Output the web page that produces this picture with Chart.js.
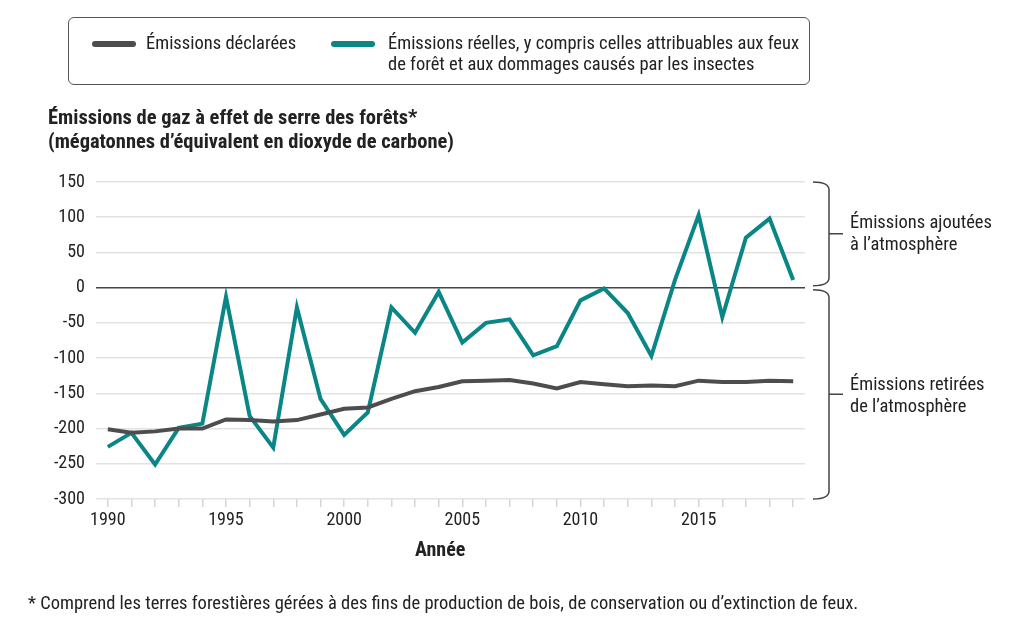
<!DOCTYPE html>
<html>
<head>
    <title>Émissions de gaz à effet de serre des forêts</title>
    <script src="https://cdn.jsdelivr.net/npm/chart.js"></script>
    <style>
        body { margin: 0; width: 1024px; height: 629px; position: relative; background: #fff;
               font-family: "Roboto Condensed", "Liberation Sans Narrow", Roboto, sans-serif; color: #222; }
        #chart { position: absolute; left: 0; top: 0; }
        .txt { position: absolute; white-space: nowrap; font-size: 18.5px; line-height: 21px; }
        #legend { position: absolute; left: 68px; top: 17px; width: 742px; height: 68px;
                  border: 1px solid #555; border-radius: 6px; box-sizing: border-box; }
        .swatch { position: absolute; height: 6px; width: 44px; border-radius: 3px; }
        #title { left: 48px; top: 105px; font-size: 20.5px; line-height: 24px; font-weight: bold; }
        #xtitle { left: 415px; top: 539px; font-size: 20px; font-weight: bold; }
        #note { left: 28px; top: 593px; }
    </style>
</head>
<body>
    <canvas id="chart" width="1024" height="629"></canvas>

    <div id="legend">
        <div class="swatch" style="left:23px; top:23px; background:#4d4d4f"></div>
        <div class="txt" style="left:77px; top:15px">Émissions déclarées</div>
        <div class="swatch" style="left:262px; top:23px; background:#0b8686"></div>
        <div class="txt" style="left:319px; top:15px">Émissions réelles, y compris celles attribuables aux feux<br>de forêt et aux dommages causés par les insectes</div>
    </div>
    <div class="txt" id="title">Émissions de gaz à effet de serre des forêts*<br>(mégatonnes d’équivalent en dioxyde de carbone)</div>
    <div class="txt" style="left:850px; top:211px; line-height:22px">Émissions ajoutées<br>à l’atmosphère</div>
    <div class="txt" style="left:850px; top:373px; line-height:22px">Émissions retirées<br>de l’atmosphère</div>
    <div class="txt" id="xtitle">Année</div>
    <div class="txt" id="note">* Comprend les terres forestières gérées à des fins de production de bois, de conservation ou d’extinction de feux.</div>

    <script>
        // years on the x axis
        var years = [];
        for (var y = 1990; y <= 2019; y++) years.push(y);

        // reported emissions (Mt CO2e)
        var declared = [-201, -206, -204, -200, -200, -187, -188, -190, -188, -180,
                        -172, -170, -158, -147, -141, -133, -132, -131, -136, -143,
                        -134, -137, -140, -139, -140, -132, -134, -134, -132, -133];

        // actual emissions incl. fires and insects
        var actual = [-226, -206, -251, -199, -193, -13, -182, -227, -28, -158,
                      -209, -177, -28, -64, -6, -78, -50, -45, -96, -83,
                      -18, -1, -36, -97, 11, 103, -42, 71, 98, 11];

        var yTicks = [150, 100, 50, 0, -50, -100, -150, -200, -250, -300];

        var fontFamily = '"Roboto Condensed", "Liberation Sans Narrow", Roboto, sans-serif';

        // curly braces on the right of the plot
        var bracePlugin = {
            id: 'braces',
            afterDraw: function(chart) {
                var ctx = chart.ctx;
                var ys = chart.scales.y;
                var x0 = 813, x1 = 829, x2 = 843, r = 8;
                function brace(top, bottom) {
                    var mid = (top + bottom) / 2;
                    ctx.beginPath();
                    ctx.moveTo(x0, top);
                    ctx.quadraticCurveTo(x1, top, x1, top + r);
                    ctx.lineTo(x1, bottom - r);
                    ctx.quadraticCurveTo(x1, bottom, x0, bottom);
                    ctx.moveTo(x1, mid);
                    ctx.lineTo(x2, mid);
                    ctx.stroke();
                }
                ctx.save();
                ctx.strokeStyle = '#444';
                ctx.lineWidth = 1.5;
                brace(ys.getPixelForValue(150), ys.getPixelForValue(0) - 2);
                brace(ys.getPixelForValue(0) + 2, ys.getPixelForValue(-300));
                ctx.restore();
            }
        };

        var ctx = document.getElementById('chart').getContext('2d');
        new Chart(ctx, {
            type: 'line',
            data: {
                labels: years,
                datasets: [{
                    label: 'Émissions déclarées',
                    data: declared,
                    borderColor: '#4d4d4f',
                    borderWidth: 4,
                    pointRadius: 0,
                    tension: 0
                }, {
                    label: 'Émissions réelles',
                    data: actual,
                    borderColor: '#0b8686',
                    borderWidth: 4,
                    pointRadius: 0,
                    tension: 0
                }]
            },
            options: {
                responsive: false,
                animation: false,
                events: [],
                layout: { padding: { left: 0, right: 219, top: 182, bottom: 0 } },
                plugins: {
                    legend: { display: false },
                    tooltip: { enabled: false }
                },
                scales: {
                    x: {
                        offset: true,
                        afterFit: function(scale) { scale.height = 130; },
                        border: { display: false },
                        grid: {
                            offset: false,
                            drawOnChartArea: false,
                            drawTicks: true,
                            tickLength: 8,
                            color: '#d6d6d6',
                            lineWidth: 1.5
                        },
                        ticks: {
                            autoSkip: false,
                            maxRotation: 0,
                            padding: 3,
                            color: '#222',
                            font: { family: fontFamily, size: 18 },
                            callback: function(v, i) {
                                var yr = years[i];
                                return yr % 5 === 0 ? String(yr) : '';
                            }
                        }
                    },
                    y: {
                        min: -300,
                        max: 150,
                        afterFit: function(scale) { scale.width = 96; },
                        afterBuildTicks: function(scale) {
                            scale.ticks = yTicks.map(function(v) { return { value: v }; });
                        },
                        border: { display: false },
                        grid: {
                            drawTicks: false,
                            color: function(c) { return c.tick && c.tick.value === 0 ? '#444' : '#e2e2e2'; },
                            lineWidth: 1.5
                        },
                        ticks: {
                            padding: 11,
                            color: '#222',
                            font: { family: fontFamily, size: 18 }
                        }
                    }
                }
            },
            plugins: [bracePlugin]
        });
    </script>
</body>
</html>
